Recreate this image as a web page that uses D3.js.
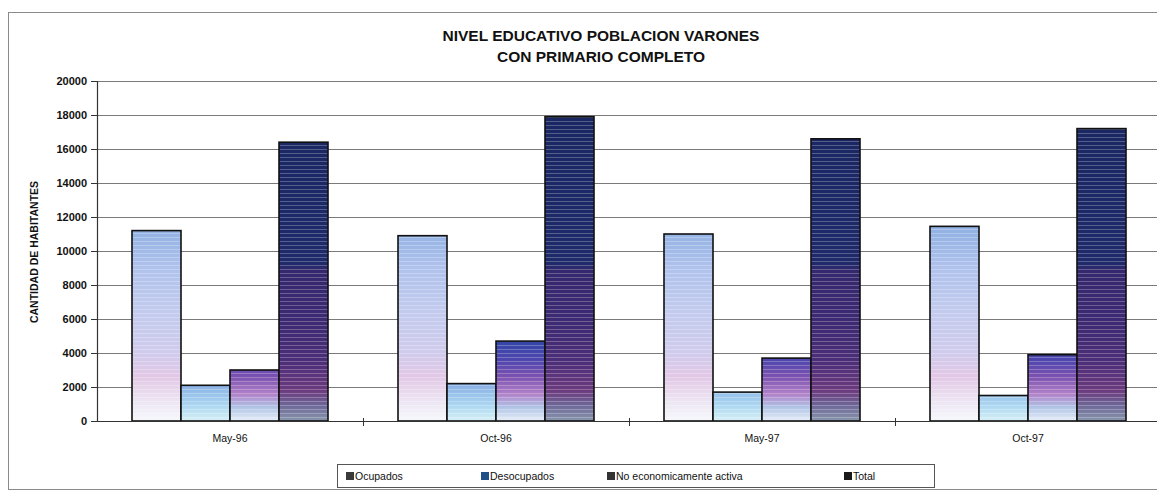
<!DOCTYPE html>
<html>
<head>
<meta charset="utf-8">
<script src="https://cdn.jsdelivr.net/npm/d3@7/dist/d3.min.js"></script>
<style>
  html, body { margin: 0; padding: 0; background: #fff; }
  svg { display: block; font-family: "Liberation Sans", Arial, sans-serif; }
</style>
</head>
<body>
<svg id="chart" width="1157" height="492"></svg>
<script>
// ---- data ----
const categories = ["May-96", "Oct-96", "May-97", "Oct-97"];
const seriesNames = ["Ocupados", "Desocupados", "No economicamente activa", "Total"];
const ocupados     = [11200, 10900, 11000, 11450];
const desocupados  = [2100, 2200, 1700, 1500];
const noEconActiva = [3000, 4700, 3700, 3900];
const total        = [16400, 17900, 16600, 17200];
const yTicks = [0, 2000, 4000, 6000, 8000, 10000, 12000, 14000, 16000, 18000, 20000];
const titleLines = ["NIVEL EDUCATIVO POBLACION VARONES", "CON PRIMARIO COMPLETO"];
const yLabel = "CANTIDAD DE HABITANTES";

const seriesValues = [ocupados, desocupados, noEconActiva, total];

const svg = d3.select("#chart");
const W = 1157, H = 492;
const plot = { left: 97, right: 1161, top: 81, bottom: 421 };

// outer frame
svg.append("rect").attr("x", 8.5).attr("y", 12.5).attr("width", 1170).attr("height", 477)
  .attr("fill", "#fff").attr("stroke", "#8a8a8a").attr("stroke-width", 1);

const x0 = d3.scaleBand().domain(categories).range([plot.left, plot.right]).paddingInner(0).paddingOuter(0);
const x1 = d3.scaleBand().domain(seriesNames).range([35, 231]).padding(0);
const y = d3.scaleLinear().domain([0, 20000]).range([plot.bottom, plot.top]);

// gradients in absolute (value) space
const defs = svg.append("defs");
const gradStops = {
  "Ocupados": [[0, "#f6f8fc"], [1200, "#ece4f2"], [2600, "#e2c8e6"], [4000, "#d0cbec"], [6500, "#c2cbee"], [9000, "#b0c2ec"], [11500, "#8eb0e2"]],
  "Desocupados": [[0, "#d8f0f6"], [800, "#b0daf2"], [1600, "#98c2ea"], [2400, "#82a6e0"]],
  "No economicamente activa": [[0, "#e6eef8"], [800, "#b0c4e6"], [1600, "#b080c8"], [2600, "#7c52b0"], [3600, "#4e46ae"], [4800, "#3046a6"]],
  "Total": [[0, "#8896ac"], [900, "#6e6898"], [1800, "#6c3a7e"], [3500, "#4c2e78"], [6000, "#3c2a72"], [8800, "#36286e"], [9300, "#1e2a6a"], [18000, "#1a2762"]]
};
seriesNames.forEach((s, i) => {
  const g = defs.append("linearGradient").attr("id", "grad" + i)
    .attr("gradientUnits", "userSpaceOnUse")
    .attr("x1", 0).attr("x2", 0).attr("y1", y(0)).attr("y2", y(20000));
  gradStops[s].forEach(([v, c]) => g.append("stop").attr("offset", v / 20000).attr("stop-color", c));
});
// stripe texture
const pat = defs.append("pattern").attr("id", "stripes").attr("patternUnits", "userSpaceOnUse")
  .attr("width", 6).attr("height", 4).attr("y", 1);
pat.append("rect").attr("x", 0).attr("y", 0).attr("width", 6).attr("height", 1).attr("fill", "#ffffff").attr("opacity", 0.25);

// gridlines
svg.append("g").selectAll("line").data(yTicks.filter(d => d > 0)).join("line")
  .attr("x1", plot.left).attr("x2", W)
  .attr("y1", d => Math.round(y(d)) + 0.5).attr("y2", d => Math.round(y(d)) + 0.5)
  .attr("stroke", "#7a7a7a").attr("stroke-width", 1.2);

// bars
const groups = svg.append("g").selectAll("g").data(categories).join("g")
  .attr("transform", d => `translate(${x0(d)},0)`);
groups.each(function(cat, ci) {
  const g = d3.select(this);
  seriesNames.forEach((s, si) => {
    const v = seriesValues[si][ci];
    const bx = x1(s), bw = x1.bandwidth();
    g.append("rect").attr("x", bx).attr("y", y(v)).attr("width", bw).attr("height", y(0) - y(v))
      .attr("fill", `url(#grad${si})`);
    g.append("rect").attr("x", bx).attr("y", y(v)).attr("width", bw).attr("height", y(0) - y(v))
      .attr("fill", "url(#stripes)").attr("stroke", "#111").attr("stroke-width", 1.6);
  });
});

// y axis
const yAxis = d3.axisLeft(y).tickValues(yTicks).tickSize(6).tickPadding(4).tickFormat(d3.format("d"));
const ya = svg.append("g").attr("transform", `translate(${plot.left},0)`).call(yAxis);
ya.select(".domain").attr("stroke", "#333").attr("stroke-width", 1.2);
ya.selectAll(".tick line").attr("stroke", "#333");
ya.selectAll("text").attr("font-size", 11).attr("font-weight", "bold").attr("fill", "#111")
  .attr("font-family", "'Liberation Sans', Arial, sans-serif");

// x axis
const xa = svg.append("g").attr("transform", `translate(0,${plot.bottom})`)
  .call(d3.axisBottom(x0).tickSize(0).tickPadding(14));
xa.select(".domain").attr("stroke", "#333").attr("stroke-width", 1.2);
xa.selectAll("text").attr("font-size", 10.5).attr("fill", "#111")
  .attr("font-family", "'Liberation Sans', Arial, sans-serif");
// category separator ticks
svg.append("g").selectAll("line").data(categories.slice(1)).join("line")
  .attr("x1", d => x0(d) + 0.5).attr("x2", d => x0(d) + 0.5)
  .attr("y1", plot.bottom - 3).attr("y2", plot.bottom + 5).attr("stroke", "#333");

// title
svg.append("text").attr("x", 601).attr("text-anchor", "middle")
  .attr("font-size", 15.5).attr("font-weight", "bold").attr("fill", "#111")
  .selectAll("tspan").data(titleLines).join("tspan")
  .attr("x", 601).attr("y", (d, i) => 41 + i * 21).text(d => d);

// y label
svg.append("text").attr("transform", "translate(38,252) rotate(-90)")
  .attr("text-anchor", "middle").attr("font-size", 10.5).attr("font-weight", "bold").attr("fill", "#111")
  .text(yLabel);

// legend
const legendColors = ["#3a3a3a", "#1f4f86", "#333333", "#1a1a1a"];
const legendX = [346, 481, 607, 844];
const lg = svg.append("g");
lg.append("rect").attr("x", 337.5).attr("y", 464.5).attr("width", 597).attr("height", 23)
  .attr("fill", "#fff").attr("stroke", "#555").attr("stroke-width", 1);
seriesNames.forEach((s, i) => {
  lg.append("rect").attr("x", legendX[i]).attr("y", 472).attr("width", 8).attr("height", 8)
    .attr("fill", legendColors[i]);
  lg.append("text").attr("x", legendX[i] + 9).attr("y", 480).attr("font-size", 10.5).attr("fill", "#111")
    .text(s);
});
</script>
</body>
</html>
